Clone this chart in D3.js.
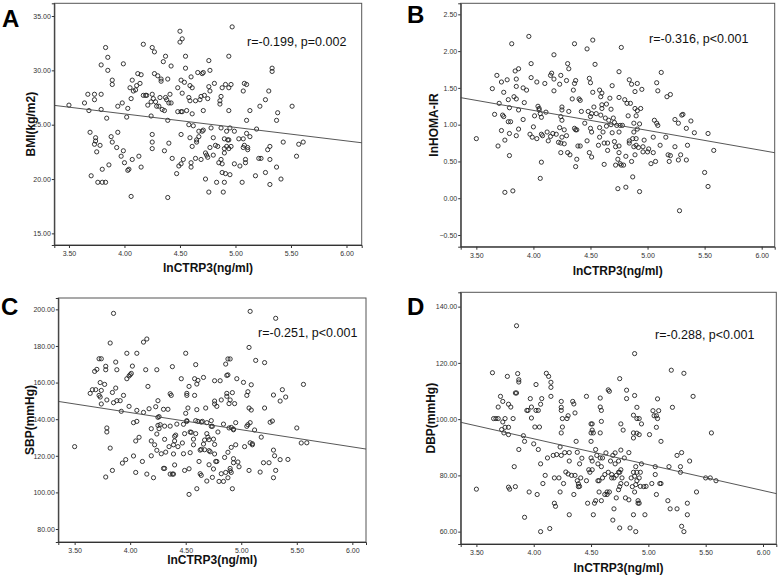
<!DOCTYPE html>
<html>
<head>
<meta charset="utf-8">
<script src="https://cdn.jsdelivr.net/npm/d3@7"></script>
<style>
  body { margin: 0; background: #fff; }
  svg { display: block; font-family: Arial, "Liberation Sans", sans-serif; }
  .tick text { font-size: 7px; fill: #333; }
</style>
</head>
<body>
<div id="area"></div>
<script>
// shared x ticks (lnCTRP3)
var xTicks = [3.5, 4.0, 4.5, 5.0, 5.5, 6.0];

// panel A: BMI
var yTicksA = [15, 20, 25, 30, 35];
var fitA = [30.96, -1.242];   // intercept, slope
var pointsA = [
  [3.50,26.8],[3.64,27.0],[3.67,27.8],[3.68,26.3],[3.69,24.3],[3.70,20.3],[3.73,27.8],[3.73,27.3],
  [3.74,23.8],[3.74,23.5],[3.73,23.2],[3.75,22.5],[3.76,19.7],[3.78,23.1],[3.79,30.5],[3.79,27.8],
  [3.79,26.4],[3.80,20.9],[3.80,19.7],[3.83,19.7],[3.83,32.1],[3.84,25.6],[3.85,31.2],[3.85,30.0],
  [3.86,21.3],[3.88,23.9],[3.89,23.4],[3.89,29.1],[3.89,28.7],[3.93,22.9],[3.94,26.7],[3.94,24.3],
  [3.97,22.1],[3.98,27.0],[3.99,30.6],[3.99,22.6],[4.00,21.5],[4.02,25.7],[4.03,26.5],[4.03,20.8],
  [4.04,20.9],[4.05,28.4],[4.06,27.4],[4.06,18.4],[4.07,29.1],[4.07,21.8],[4.08,28.1],[4.10,28.2],
  [4.11,28.6],[4.12,29.7],[4.13,22.1],[4.14,28.8],[4.15,29.6],[4.15,21.1],[4.17,32.4],[4.17,27.7],
  [4.19,27.7],[4.20,27.7],[4.21,26.8],[4.24,25.8],[4.24,27.1],[4.25,32.1],[4.25,27.8],[4.25,24.1],
  [4.25,23.4],[4.25,22.8],[4.26,27.4],[4.27,29.7],[4.27,31.7],[4.28,27.1],[4.29,26.7],[4.30,29.5],
  [4.31,26.7],[4.32,27.5],[4.33,29.2],[4.33,29.0],[4.34,26.4],[4.35,30.8],[4.36,26.3],[4.36,22.6],
  [4.37,31.3],[4.37,27.5],[4.38,27.3],[4.39,29.2],[4.39,18.3],[4.39,25.4],[4.40,23.3],[4.40,27.0],
  [4.41,27.8],[4.42,27.0],[4.42,30.4],[4.43,21.9],[4.47,20.5],[4.48,26.2],[4.48,28.4],[4.49,21.2],
  [4.50,33.6],[4.50,32.6],[4.51,29.1],[4.51,24.1],[4.51,26.2],[4.51,21.4],[4.52,26.2],[4.52,32.9],
  [4.52,27.9],[4.53,21.8],[4.54,28.9],[4.55,31.3],[4.55,30.2],[4.56,26.3],[4.58,27.5],[4.58,25.0],
  [4.59,28.6],[4.59,23.8],[4.59,27.2],[4.60,21.1],[4.60,21.5],[4.60,29.4],[4.61,28.4],[4.61,26.0],
  [4.61,23.0],[4.62,24.9],[4.64,21.9],[4.64,27.2],[4.65,23.4],[4.65,23.6],[4.66,29.8],[4.67,23.9],
  [4.67,24.4],[4.68,27.3],[4.69,27.6],[4.69,21.8],[4.70,24.4],[4.70,29.7],[4.71,29.8],[4.71,26.3],
  [4.71,24.5],[4.72,27.7],[4.73,20.0],[4.73,22.4],[4.74,22.2],[4.75,27.4],[4.75,22.0],[4.76,30.9],
  [4.76,28.5],[4.76,18.8],[4.77,22.9],[4.77,30.0],[4.77,28.1],[4.78,24.7],[4.80,23.8],[4.80,22.2],
  [4.81,28.8],[4.82,23.1],[4.83,19.7],[4.84,23.0],[4.85,21.5],[4.86,27.2],[4.86,26.9],[4.87,24.7],
  [4.87,27.6],[4.87,21.8],[4.88,21.4],[4.88,20.6],[4.88,28.4],[4.89,18.8],[4.90,23.7],[4.90,22.8],
  [4.90,22.4],[4.90,19.7],[4.91,20.5],[4.91,28.7],[4.92,24.4],[4.92,23.0],[4.93,23.6],[4.94,26.3],
  [4.94,31.3],[4.94,23.6],[4.94,22.8],[4.94,28.4],[4.95,24.7],[4.95,20.4],[4.96,23.0],[4.96,28.7],
  [4.97,34.0],[4.99,21.4],[4.99,24.4],[5.03,23.7],[5.04,21.2],[5.06,19.7],[5.07,23.7],[5.07,22.9],
  [5.07,28.1],[5.08,28.8],[5.08,23.1],[5.09,21.5],[5.09,21.8],[5.10,28.7],[5.10,25.4],[5.10,24.2],
  [5.11,22.9],[5.11,22.7],[5.13,23.9],[5.13,26.3],[5.18,20.3],[5.19,24.6],[5.21,21.9],[5.22,26.7],
  [5.23,21.9],[5.27,27.3],[5.27,20.6],[5.29,22.7],[5.30,28.1],[5.31,21.8],[5.31,19.5],[5.31,23.0],
  [5.33,30.2],[5.33,29.9],[5.37,25.4],[5.37,21.1],[5.38,26.1],[5.41,20.0],[5.43,23.4],[5.51,26.7],
  [5.55,22.1],[5.57,23.2],[5.61,23.4]
];

// panel B: lnHOMA-IR
var yTicksB = [-0.5, 0, 0.5, 1.0, 1.5, 2.0, 2.5];
var fitB = [2.282, -0.272];
var pointsB = [
  [3.50,0.81],[3.64,1.49],[3.66,1.14],[3.68,1.67],[3.69,0.71],[3.70,1.29],[3.72,1.58],[3.72,0.92],
  [3.73,1.13],[3.74,1.11],[3.74,1.44],[3.75,0.79],[3.75,0.08],[3.77,1.61],[3.78,1.34],[3.78,1.04],
  [3.79,0.88],[3.79,0.58],[3.79,1.23],[3.80,1.04],[3.81,2.10],[3.82,0.10],[3.83,1.38],[3.84,1.73],
  [3.85,1.62],[3.85,0.85],[3.85,1.52],[3.85,1.35],[3.87,1.76],[3.87,1.20],[3.87,0.94],[3.91,1.50],
  [3.91,1.07],[3.92,1.30],[3.94,1.47],[3.96,2.20],[3.97,0.87],[3.98,1.64],[3.98,1.83],[3.99,0.83],
  [4.00,0.97],[4.01,1.12],[4.03,1.58],[4.03,0.81],[4.04,1.25],[4.05,1.20],[4.05,1.22],[4.06,0.27],
  [4.06,1.15],[4.07,1.10],[4.07,0.49],[4.07,0.87],[4.08,0.85],[4.10,1.56],[4.11,1.17],[4.12,0.90],
  [4.13,0.78],[4.15,1.67],[4.15,0.84],[4.16,1.70],[4.17,0.88],[4.18,1.95],[4.18,1.62],[4.18,1.46],
  [4.20,0.87],[4.22,0.76],[4.23,1.55],[4.23,0.96],[4.24,1.11],[4.24,1.67],[4.24,0.75],[4.24,0.62],
  [4.25,1.20],[4.25,1.24],[4.25,0.83],[4.25,1.06],[4.27,0.74],[4.27,0.93],[4.29,1.60],[4.29,0.85],
  [4.30,0.62],[4.30,1.83],[4.31,1.76],[4.31,1.18],[4.32,0.59],[4.34,1.35],[4.35,1.47],[4.36,0.95],
  [4.36,2.10],[4.36,1.56],[4.37,1.60],[4.37,0.93],[4.37,0.43],[4.38,0.93],[4.38,0.53],[4.39,0.71],
  [4.40,1.35],[4.41,1.33],[4.41,0.71],[4.42,1.18],[4.45,1.02],[4.47,2.03],[4.47,0.78],[4.48,1.18],
  [4.49,0.62],[4.49,1.63],[4.50,1.57],[4.50,1.11],[4.50,0.95],[4.51,1.15],[4.51,0.90],[4.52,2.15],
  [4.52,1.44],[4.51,0.56],[4.53,1.24],[4.54,1.82],[4.55,1.15],[4.57,0.72],[4.58,0.83],[4.58,1.47],
  [4.58,0.96],[4.59,1.38],[4.59,1.13],[4.60,1.22],[4.60,1.43],[4.60,1.27],[4.61,0.90],[4.62,0.75],
  [4.62,0.46],[4.63,1.09],[4.64,0.98],[4.64,1.28],[4.65,0.65],[4.65,0.75],[4.66,1.06],[4.67,1.36],
  [4.68,1.21],[4.68,1.00],[4.69,1.53],[4.69,0.89],[4.70,1.09],[4.71,1.03],[4.71,0.77],[4.72,0.70],
  [4.72,0.45],[4.73,0.99],[4.74,0.13],[4.74,0.53],[4.75,0.90],[4.75,0.71],[4.75,0.62],[4.75,1.72],
  [4.75,1.37],[4.76,0.99],[4.76,0.47],[4.77,2.05],[4.77,0.45],[4.78,0.99],[4.79,0.45],[4.80,1.34],
  [4.81,0.57],[4.81,0.15],[4.82,1.29],[4.83,1.12],[4.84,1.61],[4.84,0.78],[4.84,0.75],[4.85,1.29],
  [4.86,1.55],[4.86,0.50],[4.87,0.29],[4.87,0.81],[4.88,1.02],[4.88,0.90],[4.88,0.70],[4.89,1.45],
  [4.89,1.22],[4.89,0.59],[4.90,0.81],[4.90,1.12],[4.90,0.72],[4.91,1.56],[4.91,1.19],[4.91,0.94],
  [4.92,0.69],[4.93,0.09],[4.93,1.01],[4.94,1.22],[4.95,1.48],[4.96,0.70],[4.96,0.63],[4.97,0.79],
  [5.00,0.63],[5.01,0.67],[5.03,0.47],[5.05,0.62],[5.05,0.83],[5.06,1.06],[5.07,0.50],[5.08,1.57],
  [5.08,1.02],[5.09,0.99],[5.09,1.46],[5.11,0.72],[5.12,1.71],[5.16,0.83],[5.17,1.38],[5.18,0.59],
  [5.19,0.50],[5.20,1.41],[5.20,0.58],[5.24,1.07],[5.24,0.70],[5.27,0.52],[5.27,1.02],[5.28,-0.17],
  [5.29,0.59],[5.30,1.13],[5.31,1.14],[5.34,0.95],[5.34,0.52],[5.35,0.72],[5.38,1.05],[5.41,0.89],
  [5.50,0.35],[5.53,0.88],[5.53,0.16],[5.58,0.65]
];

// panel C: SBP
var yTicksC = [80, 100, 120, 140, 160, 180, 200];
var fitC = [181.18, -9.39];
var pointsC = [
  [3.50,125.0],[3.64,154.1],[3.66,156.1],[3.68,166.1],[3.69,156.1],[3.70,167.2],[3.72,173.0],[3.72,153.0],
  [3.73,152.1],[3.73,160.0],[3.74,155.7],[3.74,173.0],[3.74,148.3],[3.77,159.0],[3.78,168.9],[3.78,167.0],
  [3.78,108.4],[3.79,150.5],[3.79,135.2],[3.79,133.0],[3.82,181.6],[3.82,124.2],[3.84,112.0],[3.84,154.6],
  [3.85,197.8],[3.85,149.0],[3.87,171.2],[3.87,157.0],[3.88,167.0],[3.88,150.1],[3.91,150.1],[3.92,144.3],
  [3.93,116.0],[3.94,153.0],[3.96,117.9],[3.97,162.1],[3.97,176.0],[3.99,147.0],[3.99,163.6],[4.00,164.3],
  [4.01,165.0],[4.02,169.0],[4.03,119.9],[4.03,138.1],[4.05,128.1],[4.05,110.9],[4.06,138.8],[4.06,176.0],
  [4.06,144.8],[4.08,130.1],[4.11,116.9],[4.12,182.1],[4.12,143.7],[4.14,167.0],[4.15,110.0],[4.15,183.8],
  [4.16,157.9],[4.17,145.7],[4.19,128.1],[4.19,120.0],[4.19,134.8],[4.21,108.0],[4.22,126.0],[4.23,146.8],
  [4.24,123.0],[4.24,167.0],[4.24,131.9],[4.25,141.0],[4.25,136.6],[4.25,150.1],[4.26,134.8],[4.26,141.4],
  [4.27,137.0],[4.28,121.1],[4.30,145.4],[4.30,113.1],[4.31,113.1],[4.31,136.2],[4.31,129.0],[4.32,122.0],
  [4.34,145.4],[4.35,125.0],[4.36,136.2],[4.36,153.9],[4.37,153.0],[4.36,110.0],[4.38,110.0],[4.38,168.7],
  [4.39,110.0],[4.39,126.0],[4.39,121.0],[4.40,128.1],[4.40,130.6],[4.41,131.3],[4.40,115.0],[4.42,137.3],
  [4.43,125.0],[4.46,162.1],[4.47,127.0],[4.48,137.2],[4.48,121.1],[4.49,132.1],[4.49,112.0],[4.50,176.0],
  [4.50,143.2],[4.51,139.2],[4.51,154.1],[4.51,153.0],[4.51,138.8],[4.52,146.1],[4.53,157.9],[4.53,112.9],
  [4.53,98.9],[4.54,133.0],[4.54,121.7],[4.55,132.8],[4.57,129.1],[4.57,126.0],[4.58,162.1],[4.58,153.0],
  [4.59,132.1],[4.59,139.2],[4.59,169.8],[4.60,102.0],[4.60,145.2],[4.60,159.2],[4.61,161.2],[4.61,138.8],
  [4.62,116.9],[4.63,123.1],[4.63,110.2],[4.64,109.3],[4.64,138.4],[4.64,123.5],[4.65,138.8],[4.66,126.4],
  [4.66,162.8],[4.67,123.3],[4.67,128.6],[4.68,146.1],[4.69,106.2],[4.69,132.1],[4.69,138.1],[4.70,130.2],
  [4.71,122.8],[4.71,115.1],[4.71,128.8],[4.72,122.2],[4.73,136.1],[4.73,139.2],[4.74,108.2],[4.74,136.1],
  [4.75,112.8],[4.75,129.1],[4.76,126.2],[4.76,121.0],[4.76,161.0],[4.76,149.9],[4.76,148.3],[4.77,116.9],
  [4.78,116.9],[4.78,147.0],[4.79,133.0],[4.80,106.0],[4.81,161.0],[4.82,150.5],[4.82,110.2],[4.84,106.0],
  [4.84,137.3],[4.85,119.1],[4.86,110.9],[4.86,170.1],[4.87,154.1],[4.87,152.5],[4.87,163.9],[4.88,164.2],
  [4.88,121.9],[4.88,108.0],[4.88,172.9],[4.89,135.2],[4.89,148.5],[4.90,172.9],[4.90,111.8],[4.90,150.5],
  [4.90,113.1],[4.91,110.9],[4.91,124.6],[4.91,135.5],[4.92,154.5],[4.93,134.6],[4.93,134.2],[4.92,102.0],
  [4.93,118.4],[4.93,116.2],[4.94,148.5],[4.95,126.0],[4.95,138.1],[4.96,162.1],[4.97,116.6],[4.98,114.0],
  [5.02,160.1],[5.03,125.0],[5.05,153.0],[5.05,136.1],[5.06,137.0],[5.06,155.0],[5.07,146.1],[5.07,179.2],
  [5.07,112.0],[5.08,127.1],[5.08,138.1],[5.08,198.9],[5.09,145.0],[5.09,158.8],[5.10,126.6],[5.10,126.0],
  [5.12,134.1],[5.13,172.1],[5.17,111.1],[5.18,130.2],[5.20,116.2],[5.21,170.9],[5.21,146.1],[5.25,116.2],
  [5.26,138.3],[5.28,139.0],[5.29,123.1],[5.29,108.0],[5.29,153.2],[5.30,120.0],[5.31,112.0],[5.31,195.1],
  [5.35,149.9],[5.35,117.9],[5.37,156.1],[5.40,152.1],[5.42,118.0],[5.50,135.2],[5.54,127.0],[5.56,159.0],
  [5.59,127.1]
];

// panel D: DBP
var yTicksD = [60, 80, 100, 120, 140];
var fitD = [129.85, -9.21];
var pointsD = [
  [3.50,75.1],[3.64,116.5],[3.65,100.2],[3.67,100.2],[3.69,100.2],[3.69,104.3],[3.71,108.1],[3.72,96.3],
  [3.73,99.0],[3.73,106.3],[3.74,95.1],[3.75,100.2],[3.75,97.1],[3.77,115.2],[3.78,105.3],[3.78,97.1],
  [3.78,94.5],[3.78,75.8],[3.79,75.1],[3.80,104.3],[3.82,100.2],[3.83,83.1],[3.84,76.0],[3.84,109.3],
  [3.85,133.2],[3.85,109.3],[3.86,116.2],[3.87,114.0],[3.87,113.2],[3.87,89.2],[3.91,94.1],[3.92,92.1],
  [3.92,65.1],[3.94,103.1],[3.95,103.1],[3.96,74.1],[3.97,107.3],[3.98,104.3],[3.98,100.4],[4.00,91.2],
  [4.01,97.2],[4.02,103.1],[4.02,112.3],[4.03,73.2],[4.04,103.1],[4.04,89.2],[4.05,97.2],[4.06,105.3],
  [4.06,60.0],[4.06,84.1],[4.07,107.3],[4.08,77.1],[4.10,80.0],[4.11,116.3],[4.12,86.2],[4.13,115.2],
  [4.14,61.1],[4.15,111.3],[4.15,113.1],[4.15,108.1],[4.17,87.1],[4.18,79.1],[4.18,70.1],[4.19,69.0],
  [4.20,87.4],[4.22,79.1],[4.23,90.1],[4.23,74.1],[4.24,106.3],[4.24,104.2],[4.24,103.1],[4.24,95.1],
  [4.24,87.1],[4.25,97.2],[4.25,100.2],[4.26,77.1],[4.27,88.1],[4.28,81.2],[4.29,100.2],[4.30,101.2],
  [4.30,80.5],[4.31,85.1],[4.31,88.1],[4.31,66.0],[4.33,80.0],[4.34,106.3],[4.35,73.2],[4.35,105.4],
  [4.36,80.0],[4.36,102.2],[4.37,92.1],[4.38,88.2],[4.38,78.1],[4.39,77.0],[4.39,76.0],[4.40,76.1],
  [4.40,84.1],[4.41,79.1],[4.42,86.1],[4.46,78.1],[4.46,108.1],[4.47,70.1],[4.48,82.0],[4.49,81.1],
  [4.50,92.1],[4.50,86.2],[4.50,98.3],[4.50,95.1],[4.51,96.1],[4.51,98.3],[4.51,85.1],[4.51,82.0],
  [4.52,95.1],[4.52,66.0],[4.53,70.1],[4.54,89.2],[4.54,71.0],[4.55,87.1],[4.56,84.1],[4.56,78.1],
  [4.57,74.1],[4.57,78.1],[4.58,107.5],[4.58,95.1],[4.58,86.2],[4.58,104.3],[4.59,99.2],[4.59,83.1],
  [4.59,103.1],[4.59,71.0],[4.60,86.2],[4.60,79.1],[4.62,80.3],[4.62,73.2],[4.63,88.0],[4.64,74.1],
  [4.64,73.2],[4.65,81.1],[4.65,110.4],[4.66,74.1],[4.66,109.9],[4.67,85.1],[4.68,79.1],[4.68,80.3],
  [4.69,87.1],[4.69,64.1],[4.70,79.1],[4.70,68.1],[4.71,88.0],[4.71,84.1],[4.72,72.0],[4.72,80.0],
  [4.74,74.9],[4.74,85.1],[4.74,81.1],[4.75,114.4],[4.75,81.1],[4.75,76.0],[4.75,61.3],[4.76,98.3],
  [4.76,77.1],[4.76,89.0],[4.76,82.0],[4.77,79.1],[4.78,96.1],[4.79,86.2],[4.80,72.0],[4.81,77.0],
  [4.81,107.3],[4.81,110.3],[4.83,88.1],[4.83,71.3],[4.84,61.3],[4.85,79.1],[4.86,76.0],[4.87,81.1],
  [4.87,93.3],[4.87,101.4],[4.87,66.0],[4.87,95.1],[4.88,123.3],[4.88,108.4],[4.88,79.7],[4.88,74.1],
  [4.89,60.0],[4.89,76.7],[4.89,83.1],[4.90,100.2],[4.90,104.2],[4.90,78.1],[4.90,95.0],[4.90,81.1],
  [4.91,71.0],[4.91,70.1],[4.92,79.1],[4.92,70.1],[4.92,94.5],[4.92,100.2],[4.93,81.1],[4.93,76.1],
  [4.94,98.3],[4.94,84.1],[4.96,76.0],[4.97,66.0],[4.98,76.1],[5.01,94.5],[5.03,77.1],[5.04,103.0],
  [5.05,101.2],[5.06,83.1],[5.06,80.3],[5.07,101.2],[5.07,73.2],[5.07,97.1],[5.08,100.2],[5.08,107.2],
  [5.09,103.0],[5.10,77.1],[5.11,92.1],[5.11,77.1],[5.17,71.0],[5.18,83.1],[5.19,68.1],[5.20,117.4],
  [5.21,104.2],[5.25,68.1],[5.25,87.1],[5.28,83.1],[5.28,81.1],[5.29,88.1],[5.29,61.9],[5.31,116.3],
  [5.31,60.0],[5.34,70.1],[5.34,66.0],[5.36,85.1],[5.39,108.1],[5.42,74.1],[5.50,79.1],[5.54,79.1],
  [5.55,95.1],[5.59,78.1]
];

var panels = [
  {letter: 'A', ylabel: 'BMI(kg/m2)', rtext: 'r=-0.199, p=0.002', pts: pointsA, fit: fitA, yTicks: yTicksA,
   left: 54.3, top: 3.3, right: 361.7, bottom: 245, xd: [3.368, 6.137], yd: [13.93, 36.17],
   lx: 2, ly: 26.5, rx: 247, ry: 46, ylx: 30.5, xly: 272},
  {letter: 'B', ylabel: 'lnHOMA-IR', rtext: 'r=-0.316, p<0.001', pts: pointsB, fit: fitB, yTicks: yTicksB,
   left: 460.7, top: 3.3, right: 774.7, bottom: 246.7, xd: [3.363, 6.114], yd: [-0.659, 2.65],
   lx: 407, ly: 22.5, rx: 649, ry: 43, ylx: 434, xly: 275},
  {letter: 'C', ylabel: 'SBP(mmHg)', rtext: 'r=-0.251, p<0.001', pts: pointsC, fit: fitC, yTicks: yTicksC,
   left: 58.3, top: 298, right: 366, bottom: 542, xd: [3.353, 6.123], yd: [72.9, 206.2],
   lx: 1, ly: 314.5, rx: 258, ry: 337, ylx: 30, xly: 564},
  {letter: 'D', ylabel: 'DBP(mmHg)', rtext: 'r=-0.288, p<0.001', pts: pointsD, fit: fitD, yTicks: yTicksD,
   left: 460.7, top: 292.3, right: 776.3, bottom: 544, xd: [3.363, 6.116], yd: [55.6, 145.1],
   lx: 407, ly: 314.5, rx: 655, ry: 339, ylx: 430.5, xly: 572}
];

var svg = d3.select('#area').append('svg')
    .attr('width', 778)
    .attr('height', 577);

var fmt = d3.format('.2f');

panels.forEach(function(p) {
  var x = d3.scaleLinear().domain(p.xd).range([p.left, p.right]);
  var y = d3.scaleLinear().domain(p.yd).range([p.bottom, p.top]);
  var g = svg.append('g');

  // frame
  g.append('rect')
    .attr('x', p.left).attr('y', p.top)
    .attr('width', p.right - p.left).attr('height', p.bottom - p.top)
    .attr('fill', '#fff').attr('stroke', '#555').attr('stroke-width', 1);

  var xAxis = g.append('g')
    .attr('transform', 'translate(0,' + p.bottom + ')')
    .call(d3.axisBottom(x).tickValues(xTicks).tickFormat(fmt).tickSizeOuter(0).tickSize(3).tickPadding(3));
  var yAxis = g.append('g')
    .attr('transform', 'translate(' + p.left + ',0)')
    .call(d3.axisLeft(y).tickValues(p.yTicks).tickFormat(fmt).tickSizeOuter(0).tickSize(2.5).tickPadding(1));
  [xAxis, yAxis].forEach(function(a) {
    a.select('.domain').attr('stroke', '#333');
    a.selectAll('.tick line').attr('stroke', '#333');
    a.selectAll('.tick text').attr('font-family', 'Arial, "Liberation Sans", sans-serif');
  });

  // points
  g.append('g').selectAll('circle')
    .data(p.pts)
    .enter().append('circle')
    .attr('cx', function(d) { return x(d[0]); })
    .attr('cy', function(d) { return y(d[1]); })
    .attr('r', 2.1)
    .attr('fill', 'none')
    .attr('stroke', '#222')
    .attr('stroke-width', 0.9);

  // regression line
  var line = d3.line()
    .x(function(d) { return x(d); })
    .y(function(d) { return y(p.fit[0] + p.fit[1] * d); });
  g.append('path')
    .datum(p.xd)
    .attr('d', line)
    .attr('fill', 'none')
    .attr('stroke', '#444')
    .attr('stroke-width', 0.9);

  g.append('text')
    .attr('x', p.rx).attr('y', p.ry)
    .attr('font-size', '12.5px')
    .attr('fill', '#111')
    .text(p.rtext);

  g.append('text')
    .attr('x', (p.left + p.right) / 2).attr('y', p.xly)
    .attr('text-anchor', 'middle')
    .attr('font-size', '12px').attr('font-weight', 'bold')
    .attr('fill', '#111')
    .text('lnCTRP3(ng/ml)');

  g.append('text')
    .attr('transform', 'translate(' + p.ylx + ',' + (p.top + p.bottom) / 2 + ') rotate(-90)')
    .attr('text-anchor', 'middle')
    .attr('dy', '0.35em')
    .attr('font-size', '12px').attr('font-weight', 'bold')
    .attr('fill', '#111')
    .text(p.ylabel);

  g.append('text')
    .attr('x', p.lx).attr('y', p.ly)
    .attr('font-size', '24px').attr('font-weight', 'bold')
    .attr('fill', '#000')
    .text(p.letter);
});
</script>
</body>
</html>
